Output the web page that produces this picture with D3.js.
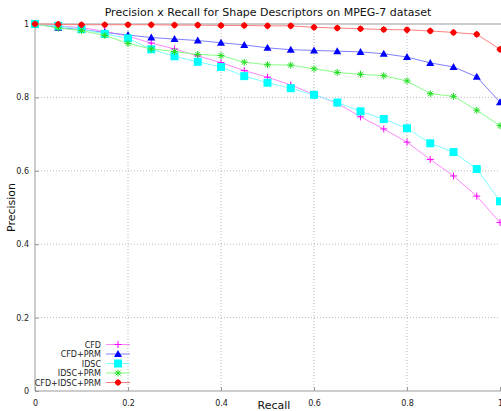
<!DOCTYPE html>
<html>
<head>
<meta charset="utf-8">
<script src="https://cdn.jsdelivr.net/npm/d3@7"></script>
<style>
  body { margin: 0; background: #fff; }
  svg { display: block; font-family: "DejaVu Sans", sans-serif; }
</style>
</head>
<body>
<svg id="chart" width="501" height="411"></svg>
<script>
// recall levels on x
const recall = [0, 0.05, 0.1, 0.15, 0.2, 0.25, 0.3, 0.35, 0.4, 0.45, 0.5,
  0.55, 0.6, 0.65, 0.7, 0.75, 0.8, 0.85, 0.9, 0.95, 1.0];

// precision per descriptor
const cfd = [1.0, 0.995, 0.99, 0.98, 0.967, 0.948, 0.932, 0.913, 0.895, 0.873, 0.855,
  0.834, 0.808, 0.784, 0.747, 0.714, 0.678, 0.631, 0.586, 0.531, 0.459];
const cfdPrm = [1.0, 0.99, 0.985, 0.977, 0.970, 0.963, 0.959, 0.955, 0.949, 0.943, 0.935,
  0.930, 0.928, 0.926, 0.924, 0.919, 0.910, 0.894, 0.883, 0.856, 0.787];
const idsc = [1.0, 0.995, 0.986, 0.973, 0.961, 0.931, 0.912, 0.897, 0.883, 0.858, 0.840,
  0.825, 0.807, 0.786, 0.762, 0.741, 0.716, 0.675, 0.651, 0.605, 0.517];
const idscPrm = [1.0, 0.989, 0.982, 0.969, 0.947, 0.932, 0.925, 0.917, 0.914, 0.896, 0.889,
  0.888, 0.878, 0.868, 0.863, 0.859, 0.845, 0.810, 0.803, 0.765, 0.723];
const cfdIdscPrm = [1.0, 0.999, 0.998, 0.998, 0.998, 0.998, 0.997, 0.997, 0.996, 0.996, 0.995,
  0.995, 0.991, 0.989, 0.987, 0.985, 0.984, 0.981, 0.977, 0.972, 0.931];

const seriesNames = ["CFD", "CFD+PRM", "IDSC", "IDSC+PRM", "CFD+IDSC+PRM"];
const xTicks = [0, 0.2, 0.4, 0.6, 0.8, 1];
const yTicks = [0, 0.2, 0.4, 0.6, 0.8, 1];

const series = [
  { name: seriesNames[0], values: cfd, color: "#ff00ff", line: "#ff88ff", shape: "plus" },
  { name: seriesNames[1], values: cfdPrm, color: "#0000ff", line: "#8080ff", shape: "triangle" },
  { name: seriesNames[2], values: idsc, color: "#00ffff", line: "#80ffff", shape: "square" },
  { name: seriesNames[3], values: idscPrm, color: "#22dd22", line: "#88ff88", shape: "star" },
  { name: seriesNames[4], values: cfdIdscPrm, color: "#ff0000", line: "#ff8080", shape: "circle" }
];

const svg = d3.select("#chart");

const x = d3.scaleLinear().domain([0, 1]).range([35, 500]);
const y = d3.scaleLinear().domain([0, 1]).range([391, 24]);

// grid
const grid = svg.append("g");
grid.selectAll("line.gx")
  .data(xTicks.filter(d => d > 0 && d < 1))
  .enter().append("line")
  .attr("x1", d => x(d)).attr("x2", d => x(d))
  .attr("y1", y(0)).attr("y2", y(1))
  .attr("stroke", "#bbb").attr("stroke-dasharray", "1,2");
grid.selectAll("line.gy")
  .data(yTicks.filter(d => d > 0 && d < 1))
  .enter().append("line")
  .attr("x1", x(0)).attr("x2", x(1))
  .attr("y1", d => y(d)).attr("y2", d => y(d))
  .attr("stroke", "#bbb").attr("stroke-dasharray", "1,2");

// border (left, bottom, top)
svg.append("path")
  .attr("d", `M${x(1) + 2},${y(1)}H${x(0)}V${y(0)}H${x(1) + 2}`)
  .attr("fill", "none").attr("stroke", "#999");

// axes
const xAxis = svg.append("g")
  .attr("transform", `translate(0,${y(0)})`)
  .call(d3.axisBottom(x).tickValues(xTicks).tickFormat(d3.format("~g")).tickSize(-4).tickPadding(9));
const yAxis = svg.append("g")
  .attr("transform", `translate(${x(0)},0)`)
  .call(d3.axisLeft(y).tickValues(yTicks).tickFormat(d3.format("~g")).tickSize(-4).tickPadding(6));
[xAxis, yAxis].forEach(a => {
  a.select(".domain").remove();
  a.selectAll(".tick line").attr("stroke", "#999");
  a.selectAll(".tick text").attr("font-size", 8).attr("fill", "#222")
    .attr("font-family", "DejaVu Sans, sans-serif");
});

// titles
svg.append("text")
  .attr("x", 268).attr("y", 16)
  .attr("text-anchor", "middle").attr("font-size", 11).attr("fill", "#111")
  .text("Precision x Recall for Shape Descriptors on MPEG-7 dataset");
svg.append("text")
  .attr("x", 274).attr("y", 409)
  .attr("text-anchor", "middle").attr("font-size", 11).attr("fill", "#111")
  .text("Recall");
svg.append("text")
  .attr("transform", `translate(15,${(y(0) + y(1)) / 2}) rotate(-90)`)
  .attr("text-anchor", "middle").attr("font-size", 11).attr("fill", "#111")
  .text("Precision");

function drawMarker(g, shape, color) {
  if (shape === "plus") {
    g.append("path").attr("d", "M-3.5,0H3.5M0,-3.5V3.5")
      .attr("stroke", color).attr("stroke-width", 1).attr("fill", "none");
  } else if (shape === "triangle") {
    g.append("path").attr("d", "M0,-4L4,3H-4Z").attr("fill", color);
  } else if (shape === "square") {
    g.append("rect").attr("x", -4).attr("y", -4).attr("width", 8).attr("height", 8).attr("fill", color);
  } else if (shape === "star") {
    g.append("path").attr("d", "M-3.5,0H3.5M0,-3.5V3.5M-2.5,-2.5L2.5,2.5M-2.5,2.5L2.5,-2.5")
      .attr("stroke", color).attr("stroke-width", 1).attr("fill", "none");
  } else {
    g.append("path").attr("d", "M0,-3.6L3.6,0L0,3.6L-3.6,0Z").attr("fill", color);
    g.append("circle").attr("r", 2.8).attr("fill", color);
  }
}

const line = d3.line().x((d, i) => x(recall[i])).y(d => y(d));

series.forEach(s => {
  svg.append("path")
    .datum(s.values)
    .attr("d", line)
    .attr("fill", "none")
    .attr("stroke", s.line)
    .attr("stroke-width", 1);
  s.values.forEach((v, i) => {
    const g = svg.append("g").attr("transform", `translate(${x(recall[i])},${y(v)})`);
    drawMarker(g, s.shape, s.color);
  });
});

// legend
const legend = svg.append("g");
series.forEach((s, i) => {
  const ly = 344.5 + i * 9.5;
  legend.append("text")
    .attr("x", 101).attr("y", ly + 3)
    .attr("text-anchor", "end").attr("font-size", 8).attr("fill", "#222")
    .text(s.name);
  legend.append("line")
    .attr("x1", 106).attr("x2", 130).attr("y1", ly).attr("y2", ly)
    .attr("stroke", s.line).attr("stroke-width", 1);
  const g = legend.append("g").attr("transform", `translate(118,${ly})`);
  drawMarker(g, s.shape, s.color);
});
</script>
</body>
</html>
